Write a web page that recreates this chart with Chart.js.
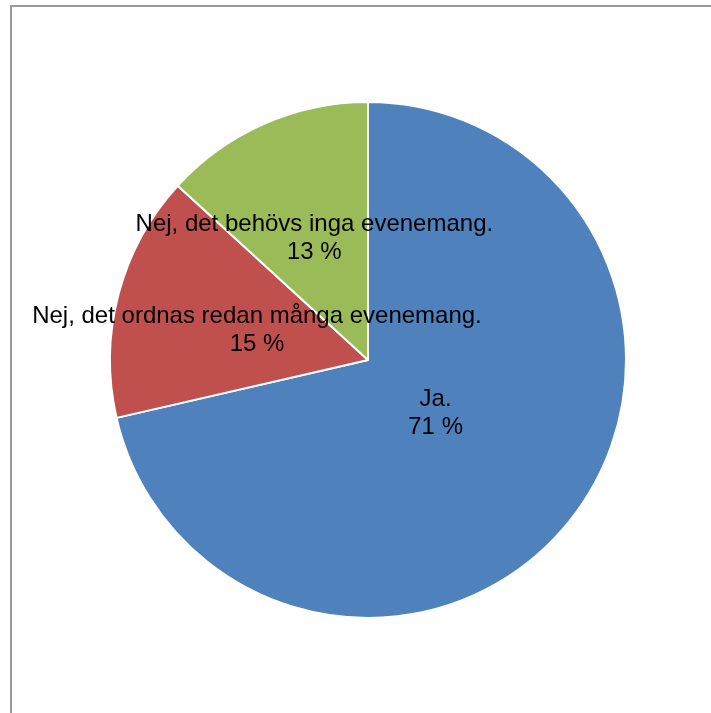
<!DOCTYPE html>
<html>
<head>
<meta charset="utf-8">
<script src="https://cdn.jsdelivr.net/npm/chart.js@4/dist/chart.umd.min.js"></script>
<style>
  html, body { margin: 0; padding: 0; background: #fff; }
  #wrap { position: relative; width: 711px; height: 713px; overflow: hidden; }
  #frame { position: absolute; left: 10px; top: 5px; right: -10px; bottom: -10px;
           border-left: 2px solid #999; border-top: 2px solid #999; }
  canvas { position: absolute; left: 0; top: 0; }
</style>
</head>
<body>
<div id="wrap">
  <div id="frame"></div>
  <canvas id="pieChart" width="711" height="713"></canvas>
</div>
<script>
// --- Data ---
const categories = ['Ja.', 'Nej, det ordnas redan många evenemang.', 'Nej, det behövs inga evenemang.'];
const shares = [71.4, 15.4, 13.2];
const sliceColors = ['#4F81BD', '#C0504D', '#9BBB59'];

// --- Label plugin (text inside slices, like the office chart) ---
const sliceLabels = {
    id: 'sliceLabels',
    afterDatasetsDraw(chart, args, opts) {
        const ctx = chart.ctx;
        const meta = chart.getDatasetMeta(0);
        const data = chart.data.datasets[0].data;
        const total = data.reduce((a, b) => a + b, 0);
        ctx.save();
        ctx.font = opts.font;
        ctx.fillStyle = '#000';
        ctx.textAlign = 'center';
        ctx.textBaseline = 'middle';
        meta.data.forEach((arc, i) => {
            const p = arc.getProps(['x', 'y', 'startAngle', 'endAngle', 'outerRadius'], true);
            const mid = (p.startAngle + p.endAngle) / 2;
            const r = p.outerRadius * opts.offsets[i];
            const x = p.x + Math.cos(mid) * r;
            const y = p.y + Math.sin(mid) * r;
            const pct = Math.round(data[i] / total * 100) + ' %';
            ctx.fillText(chart.data.labels[i], x, y - opts.lineHeight / 2);
            ctx.fillText(pct, x, y + opts.lineHeight / 2);
        });
        ctx.restore();
    }
};

const ctx = document.getElementById('pieChart').getContext('2d');
new Chart(ctx, {
    type: 'pie',
    data: {
        labels: categories,
        datasets: [{
            data: shares,
            backgroundColor: sliceColors,
            borderColor: '#ffffff',
            borderWidth: 2
        }]
    },
    options: {
        responsive: false,
        animation: false,
        layout: { padding: { left: 109, right: 84, top: 101, bottom: 94 } },
        plugins: {
            legend: { display: false },
            tooltip: { enabled: false },
            sliceLabels: {
                font: '24px "Liberation Sans", Arial, Helvetica, sans-serif',
                lineHeight: 28,
                offsets: [0.335, 0.445, 0.516]
            }
        }
    },
    plugins: [sliceLabels]
});
</script>
</body>
</html>
